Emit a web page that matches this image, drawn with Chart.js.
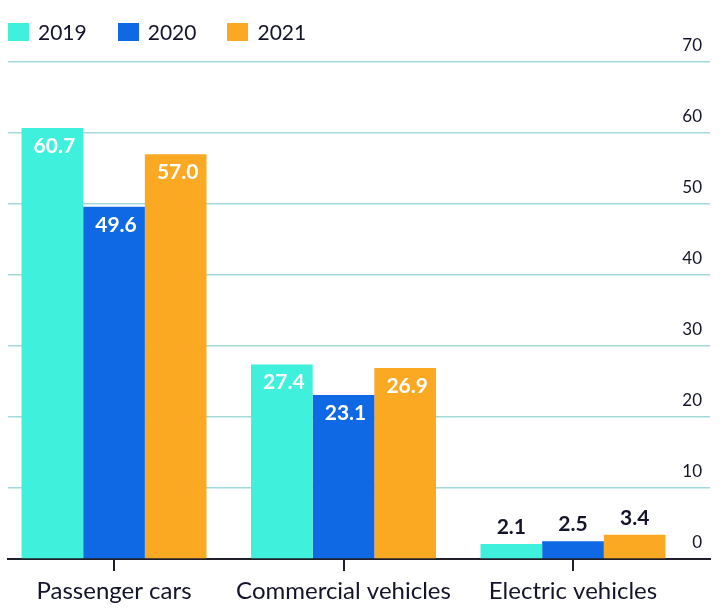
<!DOCTYPE html>
<html>
<head>
<meta charset="utf-8">
<script src="https://cdn.jsdelivr.net/npm/chart.js@4.4.1/dist/chart.umd.min.js"></script>
<style>
  html, body { margin: 0; padding: 0; background: #fff; }
  #wrap { position: relative; width: 720px; height: 612px; }
  #legend { position: absolute; left: 8px; top: 21px; display: flex; gap: 31px;
            font-family: Lato, sans-serif; font-size: 21px; line-height: 22px; color: #14142a; }
  .item { display: flex; align-items: center; }
  .box { width: 21px; height: 18px; margin-right: 9px; }
</style>
</head>
<body>
<div id="wrap">
  <canvas id="chart" width="720" height="612"></canvas>
  <div id="legend"></div>
</div>
<script>
const FONT = 'Lato, sans-serif';

const categories = ['Passenger cars', 'Commercial vehicles', 'Electric vehicles'];
const years = ['2019', '2020', '2021'];
const values2019 = [60.7, 27.4, 2.1];
const values2020 = [49.6, 23.1, 2.5];
const values2021 = [57.0, 26.9, 3.4];
const yTicks = [0, 10, 20, 30, 40, 50, 60, 70];
const colors = ['#3ff0dc', '#0f68e4', '#fba823'];

const series = [values2019, values2020, values2021];

// value labels: white inside tall bars, dark above the short ones
const barLabels = {
    id: 'barLabels',
    afterDatasetsDraw(chart) {
        const ctx = chart.ctx;
        ctx.save();
        ctx.textAlign = 'center';
        ctx.textBaseline = 'alphabetic';
        ctx.font = 'bold 21px ' + FONT;
        chart.data.datasets.forEach(function (ds, di) {
            const meta = chart.getDatasetMeta(di);
            meta.data.forEach(function (bar, i) {
                const v = ds.data[i].y;
                const txt = v.toFixed(1);
                if (v > 10) {
                    ctx.fillStyle = '#ffffff';
                    ctx.fillText(txt, bar.x + 2, bar.y + 25);
                } else {
                    ctx.fillStyle = '#14142a';
                    ctx.fillText(txt, bar.x, bar.y - 10);
                }
            });
        });
        ctx.restore();
    }
};

const ctx = document.getElementById('chart').getContext('2d');

new Chart(ctx, {
    type: 'bar',
    data: {
        datasets: years.map(function (y, k) {
            return {
                label: y,
                data: series[k].map(function (v, i) { return { x: i, y: v }; }),
                backgroundColor: colors[k],
                borderWidth: 0,
                categoryPercentage: 0.806,
                barPercentage: 1.0
            };
        })
    },
    options: {
        responsive: false,
        animation: false,
        layout: { padding: { top: 62, left: 8, right: 10, bottom: 0 } },
        plugins: {
            legend: { display: false },
            tooltip: { enabled: false }
        },
        scales: {
            x: {
                type: 'linear',
                offset: false,
                min: -0.462,
                max: 2.597,
                afterBuildTicks: function (scale) {
                    scale.ticks = categories.map(function (c, i) { return { value: i }; });
                },
                afterFit: function (scale) { scale.height = 53; },
                grid: {
                    offset: false,
                    drawOnChartArea: false,
                    drawTicks: true,
                    tickLength: 12,
                    color: '#1f1f2a',
                    lineWidth: 2
                },
                border: { display: true, color: '#1f1f2a', width: 2 },
                ticks: {
                    padding: 6,
                    color: '#14142a',
                    font: { family: FONT, size: 24 },
                    maxRotation: 0,
                    autoSkip: false,
                    callback: function (value, index) { return categories[index]; }
                }
            },
            y: {
                position: 'right',
                min: 0,
                max: 70,
                afterBuildTicks: function (scale) {
                    scale.ticks = yTicks.map(function (v) { return { value: v }; });
                },
                afterFit: function (scale) { scale.width = 0; },
                border: { display: false },
                grid: {
                    drawTicks: false,
                    lineWidth: 1.5,
                    color: function (c) { return c.tick && c.tick.value === 0 ? 'rgba(0,0,0,0)' : '#a3d9da'; }
                },
                ticks: {
                    mirror: true,
                    padding: -8,
                    labelOffset: -16,
                    color: '#14142a',
                    font: { family: FONT, size: 17 }
                }
            }
        }
    },
    plugins: [barLabels]
});

// legend built from the same arrays
const legend = document.getElementById('legend');
years.forEach(function (y, k) {
    const item = document.createElement('div');
    item.className = 'item';
    const box = document.createElement('span');
    box.className = 'box';
    box.style.background = colors[k];
    const label = document.createElement('span');
    label.textContent = y;
    item.appendChild(box);
    item.appendChild(label);
    legend.appendChild(item);
});
</script>
</body>
</html>
